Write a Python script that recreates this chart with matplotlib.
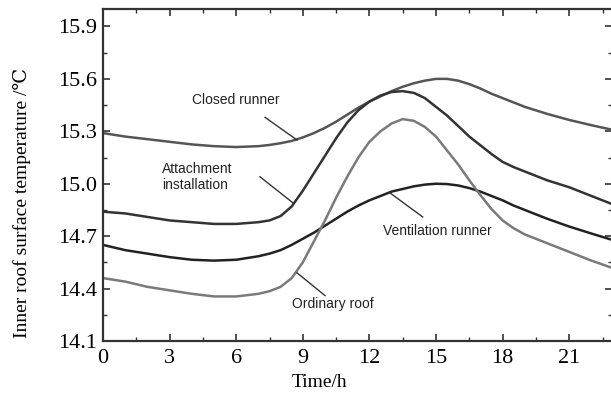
import matplotlib
matplotlib.use("Agg")
import matplotlib.pyplot as plt
from matplotlib.ticker import MultipleLocator

hours = [0, 1, 2, 3, 4, 5, 6, 7, 7.5, 8, 8.5, 9, 9.5, 10, 10.5, 11, 11.5, 12, 12.5, 13,
         13.5, 14, 14.5, 15, 15.5, 16, 16.5, 17, 17.5, 18, 18.5, 19, 19.5, 20, 21, 22, 22.9]

closed_runner = [15.29, 15.27, 15.255, 15.24, 15.225, 15.215, 15.21, 15.215, 15.222, 15.232,
                 15.245, 15.265, 15.29, 15.32, 15.355, 15.395, 15.435, 15.47, 15.50, 15.53,
                 15.555, 15.575, 15.59, 15.60, 15.60, 15.59, 15.57, 15.545, 15.515, 15.49,
                 15.465, 15.44, 15.42, 15.40, 15.365, 15.335, 15.31]
attachment = [14.84, 14.83, 14.81, 14.79, 14.78, 14.77, 14.77, 14.78, 14.79, 14.815,
              14.87, 14.96, 15.06, 15.16, 15.26, 15.35, 15.42, 15.47, 15.505, 15.525,
              15.53, 15.52, 15.49, 15.44, 15.39, 15.33, 15.27, 15.22, 15.17, 15.125,
              15.095, 15.07, 15.045, 15.02, 14.98, 14.93, 14.885]
ventilation = [14.65, 14.62, 14.60, 14.58, 14.565, 14.56, 14.565, 14.585, 14.60, 14.62,
               14.65, 14.685, 14.72, 14.76, 14.80, 14.84, 14.875, 14.905, 14.93, 14.955,
               14.97, 14.985, 14.995, 15.0, 14.998, 14.99, 14.975, 14.955, 14.93, 14.905,
               14.875, 14.85, 14.825, 14.80, 14.755, 14.715, 14.68]
ordinary = [14.46, 14.44, 14.41, 14.39, 14.37, 14.355, 14.355, 14.37, 14.385, 14.41,
            14.46, 14.55, 14.67, 14.79, 14.92, 15.04, 15.15, 15.24, 15.30, 15.345,
            15.37, 15.36, 15.325, 15.27, 15.19, 15.11, 15.02, 14.935, 14.855, 14.79,
            14.745, 14.71, 14.685, 14.66, 14.61, 14.56, 14.52]

x_ticks = [0, 3, 6, 9, 12, 15, 18, 21]
y_ticks = [14.1, 14.4, 14.7, 15.0, 15.3, 15.6, 15.9]

serif = ['Liberation Serif', 'DejaVu Serif']
sans = ['Liberation Sans', 'DejaVu Sans']

fig = plt.figure(figsize=(6.11, 3.96), dpi=100)
ax_w = 612.5 - 103
ax = fig.add_axes([103 / 611, 1 - 341 / 396, ax_w / 611, (341 - 9) / 396])

ax.plot(hours, closed_runner, color='#555555', lw=1.8)
ax.plot(hours, attachment, color='#333333', lw=1.8)
ax.plot(hours, ventilation, color='#222222', lw=1.8)
ax.plot(hours, ordinary, color='#7a7a7a', lw=1.8)

ax.set_xlim(0, 22.95)
ax.set_ylim(14.1, 16.0)
ax.set_xticks(x_ticks)
ax.set_yticks(y_ticks)
ax.set_xticklabels([str(v) for v in x_ticks], family=serif, fontsize=16)
ax.set_yticklabels([f"{v:.1f}" for v in y_ticks], family=serif, fontsize=16)
ax.xaxis.set_minor_locator(MultipleLocator(1.5))
ax.yaxis.set_minor_locator(MultipleLocator(0.15))
ax.tick_params(which='both', direction='in', top=True, right=True, color='#333333')
ax.tick_params(which='major', length=5, width=1.2)
ax.tick_params(axis='x', which='major', pad=6)
ax.tick_params(axis='y', which='major', pad=4)
ax.tick_params(which='minor', length=3, width=1.0)
for s in ax.spines.values():
    s.set_linewidth(1.6)
    s.set_color('#333333')

ax.set_xlabel('Time/h', family=serif, fontsize=14)
ax.xaxis.set_label_coords((320 - 103) / ax_w, (341 - 374) / 332)
ax.set_ylabel('Inner roof surface temperature /\u2103', family=serif, fontsize=14)
ax.yaxis.set_label_coords((31 - 103) / ax_w, (341 - 203) / 332)

lc = '#333333'
ax.text(6.0, 15.48, 'Closed runner', family=sans, fontsize=10, ha='center', va='center', color='#222222')
ax.plot([7.3, 8.74], [15.38, 15.25], color=lc, lw=1.0)
ax.text(2.65, 15.04, 'Attachment\ninstallation', family=sans, fontsize=10, ha='left', va='center',
        color='#222222', linespacing=1.2)
ax.plot([7.07, 8.56], [15.04, 14.89], color=lc, lw=1.0)
ax.text(15.05, 14.73, 'Ventilation runner', family=sans, fontsize=10, ha='center', va='center', color='#222222')
ax.plot([12.9, 14.4], [14.95, 14.81], color=lc, lw=1.0)
ax.text(10.35, 14.31, 'Ordinary roof', family=sans, fontsize=10, ha='center', va='center', color='#222222')
ax.plot([8.74, 10.0], [14.49, 14.36], color=lc, lw=1.0)

fig.savefig('out.png', dpi=100)
